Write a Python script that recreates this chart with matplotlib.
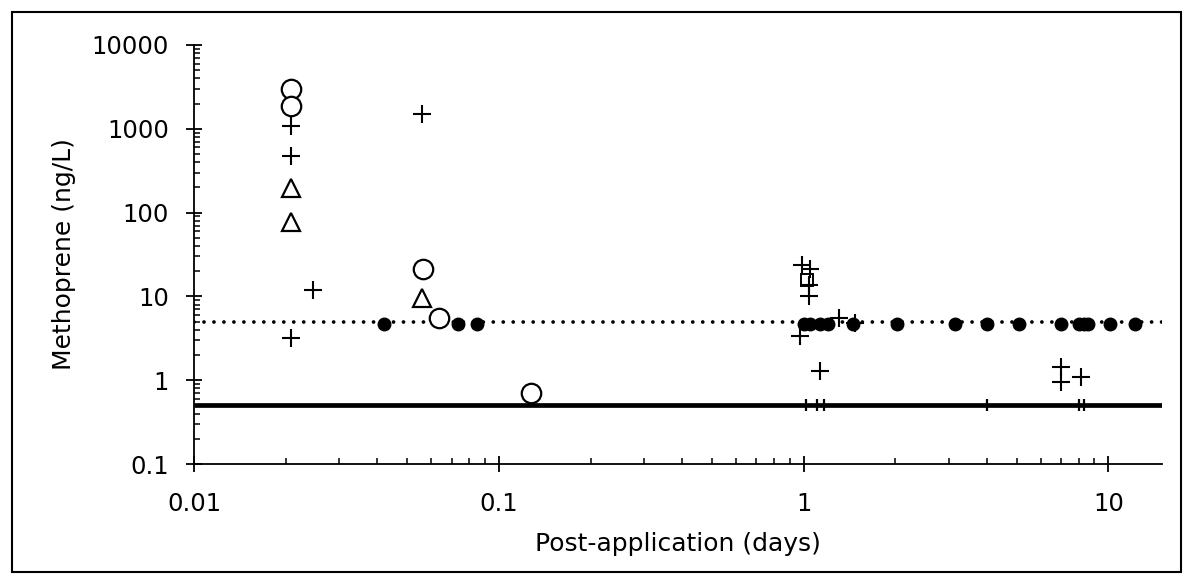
import matplotlib
matplotlib.use("Agg")
import matplotlib.pyplot as plt
from matplotlib.patches import Rectangle
from matplotlib.ticker import LogLocator, FixedLocator, NullFormatter, FuncFormatter

plt.rcParams['font.family'] = ['DejaVu Sans']

# ---- data ----
circle_x = [0.0208, 0.0208, 0.0565, 0.0636, 0.128]
circle_y = [3000, 1850, 21, 5.6, 0.70]

plus_x = [0.0208, 0.0208, 0.0208, 0.0246, 0.056, 0.985, 1.05, 1.04, 1.04, 0.97, 1.13, 1.31, 1.47, 7.0, 7.0, 8.15]
plus_y = [1090, 480, 3.2, 11.8, 1500, 23.5, 21.5, 13.5, 10, 3.4, 1.3, 5.5, 4.8, 1.43, 0.95, 1.08]

tri_x = [0.0208, 0.0208, 0.056]
tri_y = [195, 78, 9.5]

square_x = [1.03]
square_y = [15.5]

dot_x = [0.042, 0.0734, 0.0847, 1.0, 1.05, 1.13, 1.2, 1.45, 2.02, 3.15, 4.0, 5.1,
         7.0, 8.0, 8.3, 8.6, 10.1, 12.2]
dot_y = [4.7] * len(dot_x)

nd_x = [1.02, 1.11, 1.17, 4.0, 8.0, 8.3]
nd_y = [0.5] * len(nd_x)

mdl_level = 5.0   # dotted line
lod_level = 0.5   # solid line

x_range = [0.01, 15]
y_range = [0.1, 10000]

# ---- figure ----
W, H = 1193, 584
fig = plt.figure(figsize=(W / 100, H / 100), dpi=100)
fig.patches.append(Rectangle((12 / W, 12 / H), 1169 / W, 560 / H,
                             transform=fig.transFigure, fill=False,
                             edgecolor='black', linewidth=1.5))
ax_l, ax_r, ax_t, ax_b = 194, 1162, 45, 464
ax = fig.add_axes([ax_l / W, 1 - ax_b / H, (ax_r - ax_l) / W, (ax_b - ax_t) / H])
ax.set_xscale('log')
ax.set_yscale('log')
ax.set_xlim(*x_range)
ax.set_ylim(*y_range)

ax.plot(x_range, [lod_level, lod_level], color='black', lw=3.4, solid_capstyle='butt', zorder=2)
ax.plot(x_range, [mdl_level, mdl_level], color='black', lw=2.7,
        linestyle=(0, (0.01, 2.65)), dash_capstyle='round', zorder=2)

ax.plot(dot_x, dot_y, 'o', color='black', ms=9, zorder=3)
ax.plot(nd_x, nd_y, '|', color='black', ms=8.5, mew=1.6, zorder=3)
ax.plot(circle_x, circle_y, 'o', mfc='white', mec='black', ms=14, mew=1.6, zorder=4)
ax.plot(tri_x, tri_y, '^', mfc='white', mec='black', ms=13, mew=1.6, zorder=4)
ax.plot(square_x, square_y, 's', mfc='white', mec='black', ms=9, mew=1.4, zorder=4)
ax.plot(plus_x, plus_y, '+', color='black', ms=13, mew=1.5, zorder=5)

for s in ['top', 'right']:
    ax.spines[s].set_visible(False)
for s in ['left', 'bottom']:
    ax.spines[s].set_linewidth(1.3)

fmt = FuncFormatter(lambda v, p: ('%g' % v))
ax.xaxis.set_major_locator(FixedLocator([0.01, 0.1, 1, 10]))
ax.yaxis.set_major_locator(FixedLocator([0.1, 1, 10, 100, 1000, 10000]))
ax.xaxis.set_major_formatter(fmt)
ax.yaxis.set_major_formatter(fmt)
ax.xaxis.set_minor_locator(LogLocator(base=10, subs=range(2, 10), numticks=20))
ax.yaxis.set_minor_locator(LogLocator(base=10, subs=range(2, 10), numticks=20))
ax.xaxis.set_minor_formatter(NullFormatter())
ax.yaxis.set_minor_formatter(NullFormatter())

ax.tick_params(which='major', direction='inout', length=12, width=1.3, labelsize=17.5)
ax.tick_params(axis='y', which='major', pad=12)
ax.tick_params(axis='x', which='major', pad=14)
ax.tick_params(which='minor', direction='in', length=4, width=1.1)

ax.set_xlabel('Post-application (days)', fontsize=18)
ax.set_ylabel('Methoprene (ng/L)', fontsize=18)
ax.xaxis.label.set_va('center')
ax.yaxis.label.set_va('center')
ax.xaxis.set_label_coords(0.5, -(544 - ax_b) / (ax_b - ax_t))
ax.yaxis.set_label_coords(-(ax_l - 64) / (ax_r - ax_l), 0.5)

fig.savefig('out.png', dpi=100)
